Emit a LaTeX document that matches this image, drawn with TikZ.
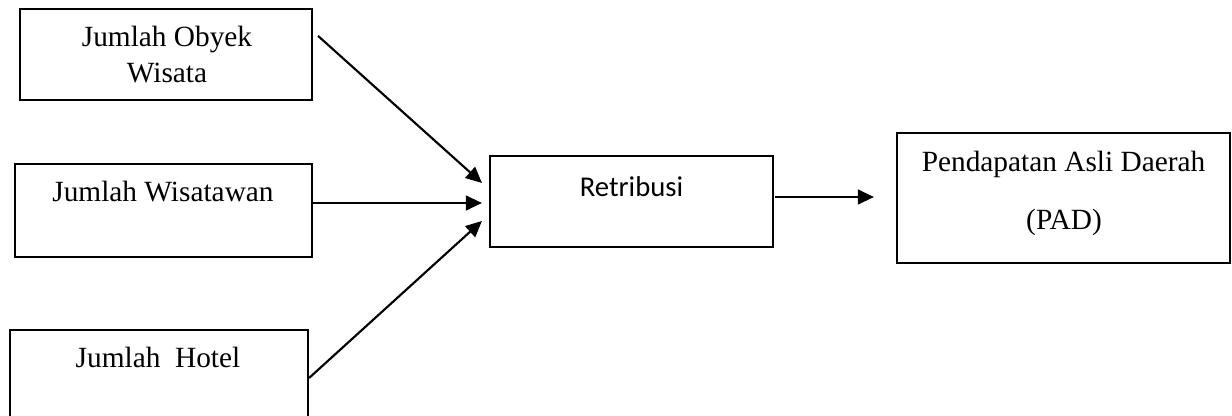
\documentclass[tikz,border=0pt]{standalone}
\usepackage{fontspec}
\setmainfont{Liberation Serif}
\newfontfamily\calfont{Carlito}
\usetikzlibrary{calc,arrows.meta}

\tikzset{
  kotak/.style={draw, line width=1.6pt, inner sep=0pt},
  teks/.style={anchor=base, inner sep=0pt, font=\fontsize{22}{27.75}\selectfont},
  panah/.style={line width=1.6pt, -{Triangle[length=12pt,width=11pt]}}
}

\begin{document}
\begin{tikzpicture}[x=0.75pt, y=-0.75pt]
			%%%%% START %%%%%
			\useasboundingbox (0,0) rectangle (1232,416);
			\clip (0,0) rectangle (1232,416);
			\fill[white] (0,0) rectangle (1232,416);
			
			% kotak kiri
			\node[kotak, minimum width=219pt, minimum height=68.25pt] (obyek) at (166, 54.5) {};
			\node[teks] (t-obyek1) at (167, 47) {Jumlah Obyek};
			\node[teks] (t-obyek2) at (167, 83) {Wisata};
			
			\node[kotak, minimum width=222.75pt, minimum height=69.75pt] (wisatawan) at (163.5, 210.5) {};
			\node[teks] (t-wisatawan) at (163, 202) {Jumlah Wisatawan};
			
			\node[kotak, minimum width=223.5pt, minimum height=82.5pt] (hotel) at (159, 385) {};
			\node[teks] (t-hotel) at (158, 368) {Jumlah\ \ Hotel};
			
			% kotak tengah
			\node[kotak, minimum width=212.25pt, minimum height=68.25pt] (retribusi) at (631.5, 201.5) {};
			\node[teks, font=\calfont\fontsize{21.5}{26}\selectfont] (t-retribusi) at (631.5, 197) {Retribusi};
			
			% kotak kanan
			\node[kotak, minimum width=249.75pt, minimum height=97.5pt] (pad) at (1063.5, 198) {};
			\node[teks] (t-pad1) at (1063.5, 172) {Pendapatan Asli Daerah};
			\node[teks] (t-pad2) at (1064, 230) {(PAD)};
			
			% panah
			\draw[panah] ($(obyek.north east)+(5,28)$) -- ($(retribusi.west)+(-7,-18.5)$);
			\draw[panah] ($(wisatawan.east)+(0,-7.5)$) -- ($(retribusi.west)+(-7,1.5)$);
			\draw[panah] ($(hotel.east)+(0,-7)$) -- ($(retribusi.west)+(-7,19.5)$);
			\draw[panah] ($(retribusi.east)+(1,-4.5)$) -- ($(pad.west)+(-22,-1)$);
			
			%%%%% END %%%%%
\end{tikzpicture}
\end{document}
